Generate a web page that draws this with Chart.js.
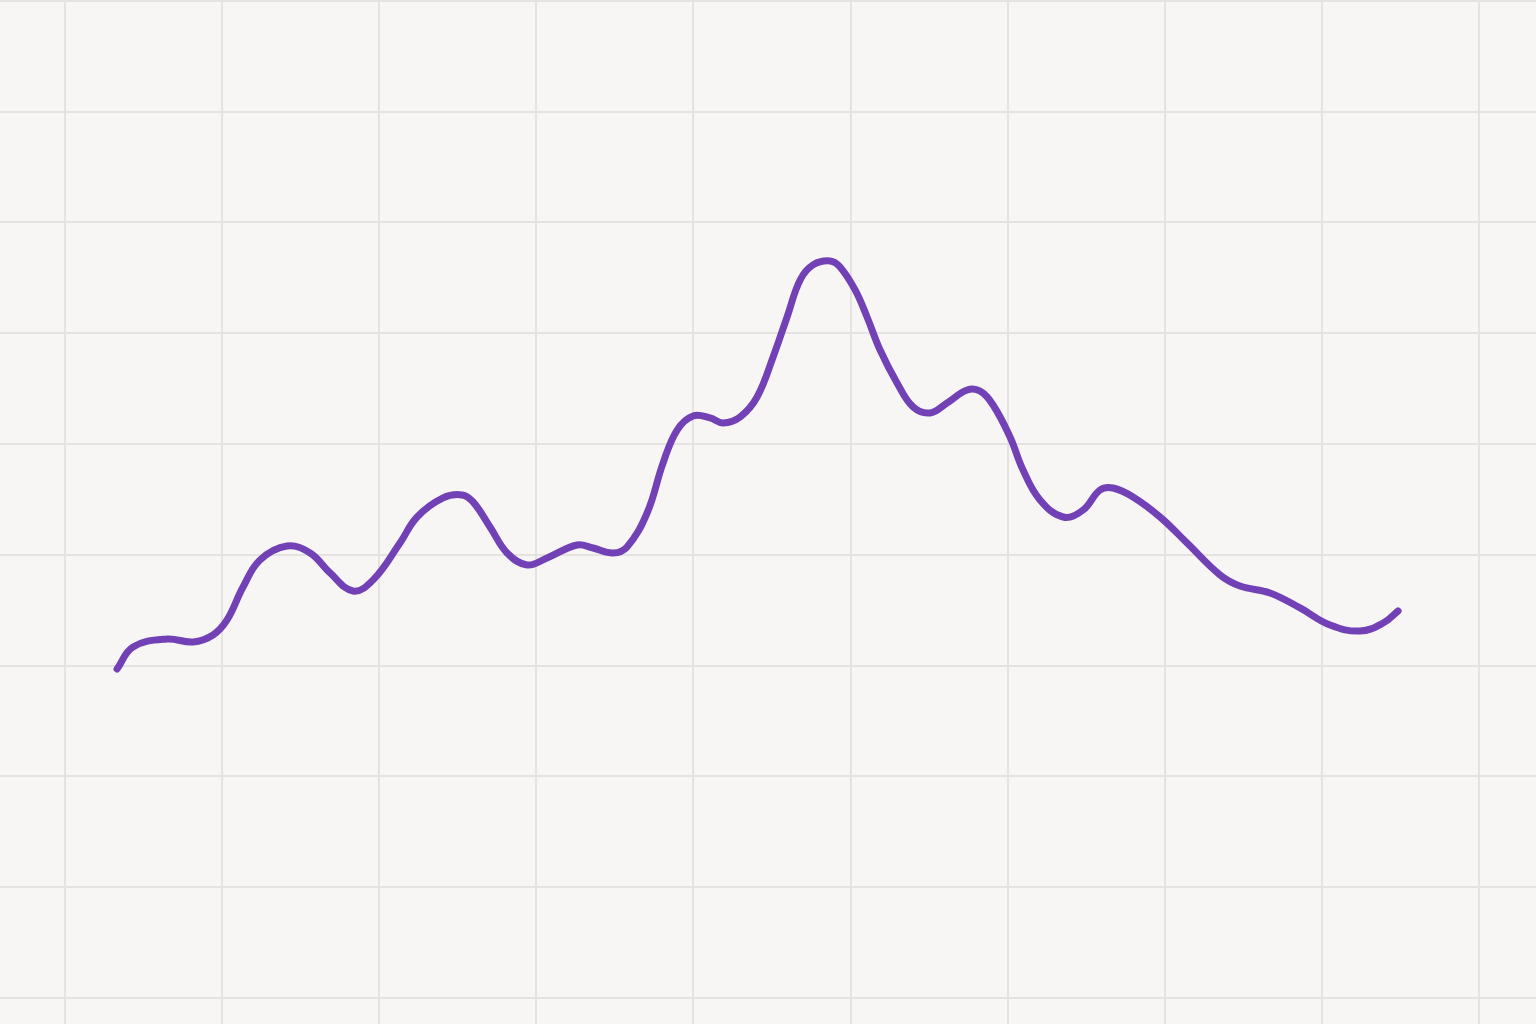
<!DOCTYPE html>
<html>
<head>
<meta charset="utf-8">
<title>Line</title>
<script src="https://cdn.jsdelivr.net/npm/chart.js@4.4.1/dist/chart.umd.min.js"></script>
<style>
    html, body { margin: 0; padding: 0; background: #f8f6f4; }
    #wrap { width: 1536px; height: 1024px; position: relative; }
</style>
</head>
<body>
<div id="wrap"><canvas id="lineChart"></canvas></div>
<script>
// Series (x in grid units of 10 per cell, y likewise)
const xValues = [3.31, 4.33, 6.49, 8.15, 9.42, 10.31, 11.33, 12.41, 14.13, 15.60,
    16.87, 18.33, 19.61, 21.32, 22.41, 24.06, 25.27, 25.97, 27.05, 28.14,
    29.41, 30.68, 32.59, 33.61, 34.88, 35.77, 37.05, 38.07, 38.96, 39.97,
    41.06, 41.88, 42.97, 44.05, 45.07, 45.96, 46.79, 47.61, 48.70, 49.33,
    50.29, 51.05, 51.88, 52.96, 53.98, 55.06, 56.14, 57.42, 58.24, 59.07,
    60.15, 60.98, 62.06, 63.53, 64.80, 65.88, 66.71, 67.98, 69.70, 71.42,
    73.52, 74.79, 76.70, 78.61, 80.52, 82.43, 83.90, 84.85];
const yValues = [29.69, 31.68, 32.40, 32.13, 32.76, 34.12, 37.09, 39.53, 40.79, 40.16,
    38.36, 36.73, 37.73, 41.06, 43.41, 45.13, 45.40, 44.77, 42.51, 40.16,
    39.08, 39.71, 40.88, 40.61, 40.16, 40.70, 43.77, 48.29, 51.26, 52.53,
    52.35, 51.90, 52.44, 54.24, 57.85, 61.46, 64.80, 66.16, 66.52, 65.97,
    63.90, 61.46, 58.48, 55.51, 53.34, 52.80, 53.70, 54.87, 54.78, 53.52,
    50.63, 47.65, 44.95, 43.41, 44.04, 45.85, 46.03, 45.22, 43.41, 41.06,
    38.18, 37.18, 36.55, 35.20, 33.66, 33.12, 33.84, 34.93];

// Grid line positions
const xGrid = [0, 10, 20, 30, 40, 50, 60, 70, 80, 90];
const yGrid = [0, 10, 20, 30, 40, 50, 60, 70, 80, 90];

const points = xValues.map((x, i) => ({ x: x, y: yValues[i] }));

const gridStyle = {
    color: '#e5e3e0',
    lineWidth: 2,
    drawTicks: false
};

new Chart(document.getElementById('lineChart').getContext('2d'), {
    type: 'line',
    data: {
        datasets: [{
            data: points,
            borderColor: '#7241b5',
            borderWidth: 7,
            borderCapStyle: 'round',
            borderJoinStyle: 'round',
            tension: 0.4,
            pointRadius: 0,
            fill: false
        }]
    },
    options: {
        responsive: true,
        maintainAspectRatio: false,
        animation: false,
        devicePixelRatio: 1,
        layout: { padding: 0 },
        plugins: {
            legend: { display: false },
            tooltip: { enabled: false }
        },
        scales: {
            x: {
                type: 'linear',
                min: -4.14,
                max: 93.63,
                grid: gridStyle,
                border: { display: false },
                ticks: { display: false },
                afterBuildTicks: scale => { scale.ticks = xGrid.map(v => ({ value: v })); }
            },
            y: {
                type: 'linear',
                min: -2.35,
                max: 90.07,
                grid: gridStyle,
                border: { display: false },
                ticks: { display: false },
                afterBuildTicks: scale => { scale.ticks = yGrid.map(v => ({ value: v })); }
            }
        }
    }
});
</script>
</body>
</html>
